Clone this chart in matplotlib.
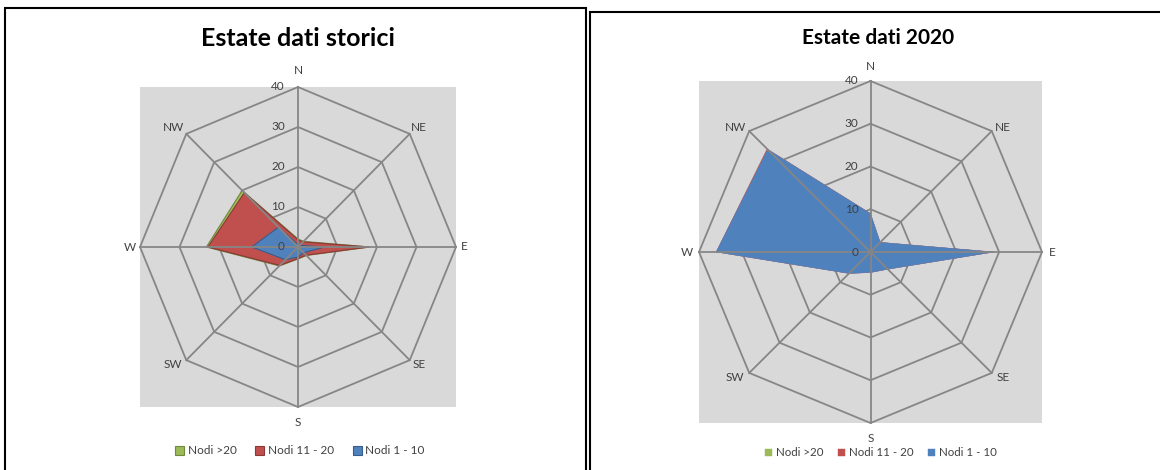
import numpy as np
import matplotlib.pyplot as plt
from matplotlib.patches import Rectangle

# ---------------- data ----------------
directions = ['N', 'NE', 'E', 'SE', 'S', 'SW', 'W', 'NW']
radial_ticks = [0, 10, 20, 30, 40]
series_names = ['Nodi >20', 'Nodi 11 - 20', 'Nodi 1 - 10']

# Estate dati storici
storici_gt20 = [2.0, 2.0, 18.2, 3.0, 3.0, 6.7, 23.2, 20.0]
storici_11_20 = [1.8, 1.8, 18.0, 2.9, 2.9, 6.5, 22.8, 19.2]
storici_1_10 = [0.6, 0.6, 6.7, 2.0, 2.5, 4.5, 11.7, 7.0]

# Estate dati 2020
d2020_gt20 = [0, 0, 0, 0, 0, 0, 0, 0]
d2020_11_20 = [9.0, 3.2, 28.8, 5.7, 4.8, 7.1, 36.0, 34.1]
d2020_1_10 = [9.0, 3.2, 28.8, 5.7, 4.8, 7.1, 36.0, 33.9]

colors = ['#9bbb59', '#c0504d', '#4f81bd']
edge_colors = ['#71893f', '#8c3836', '#385d8a']

FONT = ['Lato', 'DejaVu Sans']
plt.rcParams['font.family'] = FONT

W, H = 1160, 470
fig = plt.figure(figsize=(W / 100, H / 100), dpi=100)


def px_axes(x0, y0, x1, y1):
    return fig.add_axes([x0 / W, 1 - y1 / H, (x1 - x0) / W, (y1 - y0) / H])


def radar(ax, series, edged, label_offsets, tick_dx):
    rmax = radial_ticks[-1]
    ax.set_xlim(-rmax, rmax)
    ax.set_ylim(-rmax, rmax)
    ax.set_facecolor('#d9d9d9')
    ax.set_xticks([])
    ax.set_yticks([])
    for s in ax.spines.values():
        s.set_visible(False)
    ang = np.deg2rad(np.arange(len(directions)) * 360 / len(directions))
    sx, cy = np.sin(ang), np.cos(ang)
    # rings
    for r in radial_ticks[1:]:
        ax.plot(np.append(r * sx, r * sx[0]), np.append(r * cy, r * cy[0]),
                color='#868686', lw=1.3, zorder=1, clip_on=False)
    # series
    handles = []
    for i, vals in enumerate(series):
        v = np.asarray(vals, dtype=float)
        poly = ax.fill(v * sx, v * cy, facecolor=colors[i],
                       edgecolor=edge_colors[i] if edged else colors[i],
                       lw=0.8 if edged else 0.3, zorder=2 + i,
                       label=series_names[i])[0]
        handles.append(poly)
    # spokes
    for a, b in zip(sx, cy):
        ax.plot([0, rmax * a], [0, rmax * b], color='#868686', lw=1.3,
                zorder=6, clip_on=False)
    # tick labels
    for r in radial_ticks:
        ax.annotate(str(r), (0, r), xytext=(tick_dx, 0),
                    textcoords='offset pixels', ha='right', va='center',
                    fontsize=8.5, color='#404040', zorder=7)
    # direction labels
    for d, a, b, off in zip(directions, sx, cy, label_offsets):
        ax.annotate(d, (rmax * a, rmax * b), xytext=off,
                    textcoords='offset pixels', ha='center', va='center',
                    fontsize=8.5, color='#404040', annotation_clip=False)
    return handles


# ----- left chart -----
axL = px_axes(140, 87, 456, 407)
offL = [(0, 17), (9, 6), (8, 0), (9, -4), (0, -16), (-13, -4), (-10, 0), (-13, 6)]
hL = radar(axL, [storici_gt20, storici_11_20, storici_1_10], True, offL, -13)

# ----- right chart -----
axR = px_axes(699, 81, 1042, 423)
offR = [(0, 15), (11, 4), (10, 0), (11, -5), (0, -16), (-14, -5), (-12, 0), (-14, 4)]
hR = radar(axR, [d2020_gt20, d2020_11_20, d2020_1_10], False, offR, -12)

# titles
fig.text(298 / W, 1 - 38 / H, 'Estate dati storici', ha='center', va='center',
         fontsize=18, fontweight='bold', color='black')
fig.text(878 / W, 1 - 38 / H, 'Estate dati 2020', ha='center', va='center',
         fontsize=15, fontweight='bold', color='black')

# legends
fig.legend(handles=hL, loc='center', bbox_to_anchor=(300 / W, 1 - 451 / H),
           ncol=3, frameon=False, fontsize=8.5, handlelength=0.75,
           handleheight=0.75, handletextpad=0.3, columnspacing=1.6,
           labelcolor='#404040')
fig.legend(handles=hR, loc='center', bbox_to_anchor=(881 / W, 1 - 453 / H),
           ncol=3, frameon=False, fontsize=8.3, handlelength=0.6,
           handleheight=0.6, handletextpad=0.3, columnspacing=1.3,
           labelcolor='#404040')

# panel borders
fig.patches.append(Rectangle((5 / W, -0.01), (586 - 5) / W, 1.01 - 8 / H,
                             transform=fig.transFigure, fill=False,
                             edgecolor='black', lw=1.5))
fig.patches.append(Rectangle((590 / W, -0.01), (1165 - 590) / W, 1.01 - 12 / H,
                             transform=fig.transFigure, fill=False,
                             edgecolor='black', lw=1.5))

fig.savefig('out.png', dpi=100)
